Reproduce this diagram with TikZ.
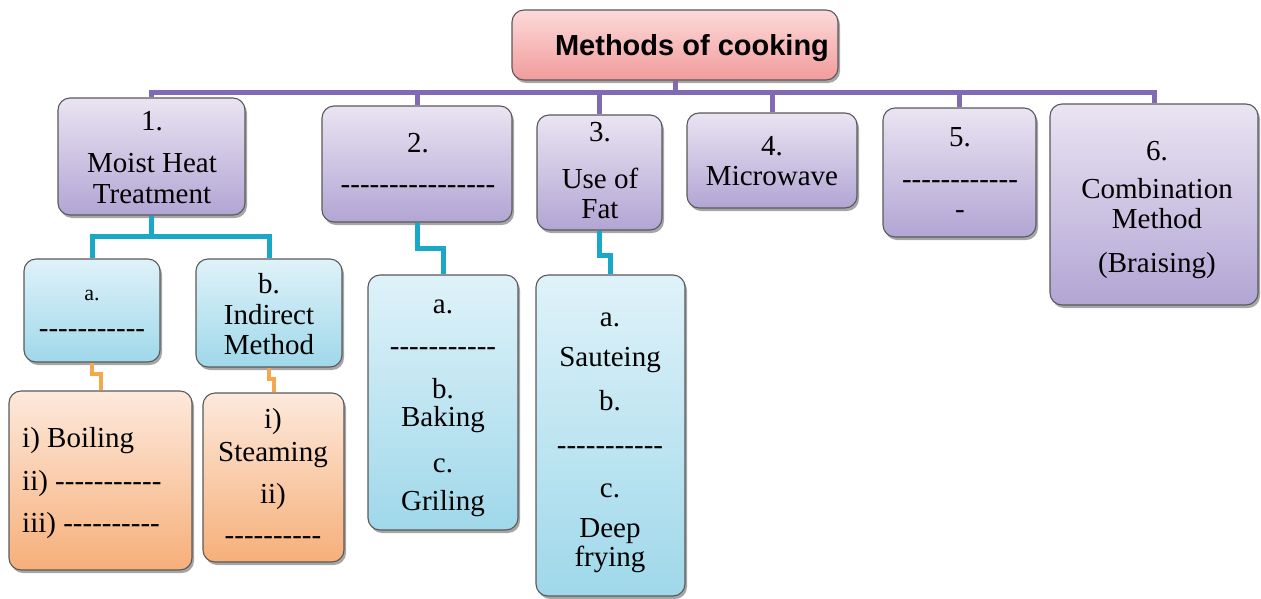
\documentclass[tikz,border=0pt]{standalone}
\usepackage{fontspec}
\setmainfont{Liberation Serif}
\newfontfamily\titlefont{Liberation Sans}
\usetikzlibrary{shadows}
\definecolor{ptop}{HTML}{EAE4F2}
\definecolor{pbot}{HTML}{B2A5D4}
\definecolor{btop}{HTML}{DFF2F9}
\definecolor{bbot}{HTML}{9FD8EA}
\definecolor{otop}{HTML}{FDE9DC}
\definecolor{obot}{HTML}{F6AF79}
\definecolor{rtop}{HTML}{FCDADA}
\definecolor{rbot}{HTML}{F29B9B}
\definecolor{pline}{HTML}{7F6AB3}
\definecolor{cline}{HTML}{1AA8C8}
\definecolor{oline}{HTML}{F4A74D}
\newcommand\hyph[1]{\ifnum#1>0 \mbox{-}\expandafter\hyph\expandafter{\the\numexpr#1-1\relax}\fi}
\begin{document}
\begin{tikzpicture}[x=1pt,y=-1pt,
  boxbase/.style={rectangle, rounded corners=12pt, draw=black!65, line width=1.1pt, inner sep=0pt,
    drop shadow={shadow xshift=2pt, shadow yshift=-3pt, fill=black, opacity=0.35}},
  pbox/.style={boxbase, top color=ptop, bottom color=pbot},
  bbox/.style={boxbase, top color=btop, bottom color=bbot},
  obox/.style={boxbase, top color=otop, bottom color=obot},
  rbox/.style={boxbase, top color=rtop, bottom color=rbot},
  tx/.style={anchor=base, inner sep=0pt, font=\fontsize{29}{31}\selectfont},
  txl/.style={anchor=base west, inner sep=0pt, font=\fontsize{29}{31}\selectfont},
  pcon/.style={draw=pline, line width=5pt},
  ccon/.style={draw=cline, line width=5pt},
  ocon/.style={draw=oline, line width=4pt}]
\useasboundingbox (0,0) rectangle (1261,598);
\coordinate (bus) at (0,92);
\coordinate (cbus) at (0,236);
\coordinate (j2) at (0,248);
\coordinate (j3) at (0,255);
\coordinate (ja) at (0,374);
\coordinate (jb) at (0,379);
% boxes
\node[rbox, minimum width=326pt, minimum height=70pt] (title) at (675,45) {};
\node[pbox, minimum width=187pt, minimum height=117pt] (b1) at (151.5,156.5) {};
\node[pbox, minimum width=190pt, minimum height=116pt] (b2) at (417,164) {};
\node[pbox, minimum width=125pt, minimum height=115pt] (b3) at (599.5,172.5) {};
\node[pbox, minimum width=170pt, minimum height=95pt] (b4) at (772,160.5) {};
\node[pbox, minimum width=153pt, minimum height=129pt] (b5) at (959.5,172.5) {};
\node[pbox, minimum width=208pt, minimum height=201pt] (b6) at (1154,204.5) {};
\node[bbox, minimum width=136pt, minimum height=103pt] (a1) at (92,310.5) {};
\node[bbox, minimum width=146pt, minimum height=108pt] (bb) at (269,313) {};
\node[obox, minimum width=183pt, minimum height=179pt] (o1) at (100.5,480.5) {};
\node[obox, minimum width=141pt, minimum height=169pt] (o2) at (273.5,477.5) {};
\node[bbox, minimum width=150pt, minimum height=255pt] (c2) at (443,402.5) {};
\node[bbox, minimum width=149pt, minimum height=321pt] (c3) at (610.5,435.5) {};
% purple tree
\draw[pcon] (title.south) -- (title.south |- bus);
\draw[pcon] (b1.north) -- (b1.north |- bus) -- (b6.north |- bus) -- (b6.north);
\draw[pcon] (b2.north) -- (b2.north |- bus);
\draw[pcon] (b3.north) -- (b3.north |- bus);
\draw[pcon] (b4.north) -- (b4.north |- bus);
\draw[pcon] (b5.north) -- (b5.north |- bus);
% cyan
\draw[ccon] (b1.south) -- (b1.south |- cbus);
\draw[ccon] (a1.north) -- (a1.north |- cbus) -- (bb.north |- cbus) -- (bb.north);
\draw[ccon] (b2.south) -- (b2.south |- j2) -| (c2.north);
\draw[ccon] (b3.south) -- (b3.south |- j3) -| (c3.north);
% orange
\draw[ocon] (a1.south) -- (a1.south |- ja) -| (o1.north);
\draw[ocon] (bb.south) -- (bb.south |- jb) -| (o2.north);
% texts
\node[anchor=base, inner sep=0pt, font=\titlefont\bfseries\fontsize{29}{31}\selectfont] (tt) at (692,55) {Methods of cooking};
\node[tx] (t1a) at (152,130) {1.};
\node[tx] (t1b) at (152,172) {Moist Heat};
\node[tx] (t1c) at (152,203) {Treatment};
\node[tx] (t2a) at (418,152) {2.};
\node[tx] (t2b) at (418,193) {\hyph{16}};
\node[tx] (t3a) at (600,141) {3.};
\node[tx] (t3b) at (600,188) {Use of};
\node[tx] (t3c) at (600,218) {Fat};
\node[tx] (t4a) at (772,155) {4.};
\node[tx] (t4b) at (772,185) {Microwave};
\node[tx] (t5a) at (960,146) {5.};
\node[tx] (t5b) at (960,188) {\hyph{12}};
\node[tx] (t5c) at (960,218) {-};
\node[tx] (t6a) at (1157,160) {6.};
\node[tx] (t6b) at (1157,198) {Combination};
\node[tx] (t6c) at (1157,228) {Method};
\node[tx] (t6d) at (1157,272) {(Braising)};
\node[tx, font=\fontsize{22}{26}\selectfont] (tAa) at (92,300) {a.};
\node[tx] (tAb) at (92,337) {\hyph{11}};
\node[tx] (tBa) at (269,293) {b.};
\node[tx] (tBb) at (269,324) {Indirect};
\node[tx] (tBc) at (269,354) {Method};
\node[txl] (tOa) at (22,447) {i) Boiling};
\node[txl] (tOb) at (22,490) {ii) \hyph{11}};
\node[txl] (tOc) at (22,532) {iii) \hyph{10}};
\node[tx] (tPa) at (273,428) {i)};
\node[tx] (tPb) at (273,461) {Steaming};
\node[tx] (tPc) at (273,503) {ii)};
\node[tx] (tPd) at (273,544) {\hyph{10}};
\node[tx] (tC2a) at (443,313) {a.};
\node[tx] (tC2b) at (443,355) {\hyph{11}};
\node[tx] (tC2c) at (443,398) {b.};
\node[tx] (tC2d) at (443,426) {Baking};
\node[tx] (tC2e) at (443,472) {c.};
\node[tx] (tC2f) at (443,510) {Griling};
\node[tx] (tC3a) at (610,326) {a.};
\node[tx] (tC3b) at (610,366) {Sauteing};
\node[tx] (tC3c) at (610,410) {b.};
\node[tx] (tC3d) at (610,454) {\hyph{11}};
\node[tx] (tC3e) at (610,497) {c.};
\node[tx] (tC3f) at (610,537) {Deep};
\node[tx] (tC3g) at (610,566) {frying};
\end{tikzpicture}
\end{document}
